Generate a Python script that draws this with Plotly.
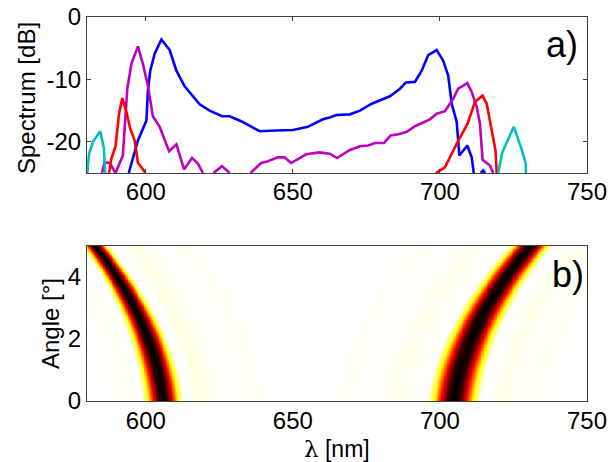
import numpy as np
import plotly.graph_objects as go

# --- Panel a): spectra (None = curve below the -25 dB floor)
blue_x = [594.2,597.3,600.2,600.7,601.5,603,605.3,608.1,610.4,613.2,618.3,621.7,625.9,628.5,632.4,635.3,638.7,644.3,650,655.1,660.2,662.5,664.8,669.4,672.8,676.8,679.6,683,686.4,688.4,691.5,693.8,696,698.9,701.1,702.8,704,705.7,706.6,709.3,710.8,711.5,None,713.9,714.7,715.4]
blue_y = [-25,-19.8,-16.6,-11.8,-8.6,-5.9,-3.6,-5.3,-8.6,-11.1,-14,-15,-15.9,-15.9,-16.7,-17.4,-18.3,-18.2,-18.1,-17.6,-16.4,-16.1,-15.7,-15.6,-15,-13.9,-13.4,-12.7,-11.5,-10.5,-10.4,-8.6,-6.1,-5.3,-7,-9.4,-13.9,-16.8,-22.2,-20.6,-22.5,-25,None,-25,-24.6,-25]
magenta_x = [585.1,586,587.7,589.7,592.2,592.8,593.7,595.1,597.3,599,600.7,602.4,604.7,607.9,610.4,613,615.7,617.7,619.4,None,623,625.9,628.5,None,635.6,639.2,641.5,644.9,647.2,649.4,654.5,659,662.5,665,669.4,672.8,675.6,677.9,681,683.2,685.9,688.7,691.5,696.6,698.9,701.7,704.5,706.2,709.3,710.8,712.5,713.6,714.5,717,718.1]
magenta_y = [-25,-23.3,-23.4,-25,-22.2,-17.6,-11.5,-7.5,-4.7,-7.5,-11,-15.9,-17.6,-21.5,-20.4,-24.4,-22.6,-23.5,-25,None,-25,-23.9,-25,None,-25,-23.4,-23.1,-22.5,-22.5,-23.4,-22,-21.7,-21.9,-22.6,-21.3,-20.7,-20.6,-20.2,-20.2,-19,-18.8,-18.4,-17.5,-16.4,-15.5,-15.1,-13.1,-11.5,-10.6,-12,-14.4,-17.1,-22.9,-23.8,-25]
red_x = [587.5,588.3,589.7,590.9,592,593.4,594.7,596.2,597.3,599.9,None,698.6,701.7,705.7,709.4,711.9,714.5,715.9,718.1,718.9,719.3]
red_y = [-25,-22.7,-20.7,-15.5,-13,-15.2,-17.9,-19.8,-23.3,-25,None,-25,-24.1,-20.3,-17.1,-13.6,-12.6,-13.9,-19,-21.4,-25]
cyan_x = [580.1,580.7,582,584.5,585.7,586.2,None,719.8,721.2,725.1,727.7,729.2,729.2]
cyan_y = [-25,-21.9,-20,-18.3,-20.9,-25,None,-25,-21.7,-17.6,-21.1,-23.5,-25]

# --- Panel b): ridge positions and band cross-sections
angle_samples = [0,0.5,1,1.5,2,2.5,3,3.5,4,4.5,5]
left_ridge = [605.2,605.0,604.3,603.2,601.0,598.7,595.9,592.8,589.4,586.6,583.5]
right_ridge = [705.1,705.4,706.2,707.9,710.2,712.8,715.9,719.3,722.6,726.3,730.0]
left_halfwidth = [6.6,6.6,6.5,6.4,6.2,5.9,5.6,5.3,5.0,4.7,4.4]
right_halfwidth = [8.7,8.7,8.6,8.5,8.3,8.1,7.9,7.7,7.5,7.3,7.1]
core_offset = [0,0.25,0.5,0.75,1.0,1.1]
core_level = [1.0,0.92,0.62,0.27,0.03,0.0]
left_lobe_offset = [-22,-17,-13,-9,-7,7,9,11,14,17,20,25,30,33,36]
left_lobe_level = [0,0.004,0.012,0.004,0,0,0.004,0.025,0.03,0.012,0.003,0.003,0.012,0.006,0]
right_lobe_offset = [-42,-37,-33,-25,-21,-16,-12,-10,12,14,17,20,24,28,32,36]
right_lobe_level = [0,0.012,0.003,0.004,0.02,0.014,0.004,0,0,0.014,0.025,0.01,0.008,0.012,0.004,0]

wavelengths = np.arange(580, 750.5, 0.5)
angles = np.arange(0, 5.02, 0.05)
left_fit = np.polyfit(angle_samples, left_ridge, 2)
right_fit = np.polyfit(angle_samples, right_ridge, 2)
cells = np.zeros((len(angles), len(wavelengths)))
for i, a in enumerate(angles):
    lc = np.polyval(left_fit, a); rc = np.polyval(right_fit, a)
    lw = np.interp(a, angle_samples, left_halfwidth); rw = np.interp(a, angle_samples, right_halfwidth)
    cells[i] = (np.interp(np.abs(wavelengths-lc)/lw, core_offset, core_level)
                + np.interp(np.abs(wavelengths-rc)/rw, core_offset, core_level)
                + np.interp(wavelengths-lc, left_lobe_offset, left_lobe_level)
                + np.interp(wavelengths-rc, right_lobe_offset, right_lobe_level))

x_ticks = [600,650,700,750]
x_labels = ["600","650","700","750"]
y_ticks_a = [0,-10,-20]
y_labels_a = ["0","-10","-20"]
y_ticks_b = [0,2,4]
y_labels_b = ["0","2","4"]

W, H = 614, 462
L, R = 87, 587
FONT = "Liberation Sans"
FRAME = "#404040"
fig = go.Figure()
for xs, ys, col, name in [(blue_x,blue_y,"#0000ff","blue"),(magenta_x,magenta_y,"#bf00bf","magenta"),
                    (red_x,red_y,"#ff0000","red"),(cyan_x,cyan_y,"#00bfbf","cyan")]:
    fig.add_trace(go.Scatter(x=xs,y=ys,mode="lines",line=dict(color=col,width=2.6),name=name,
                             showlegend=False,xaxis="x",yaxis="y",connectgaps=False))
fig.add_trace(go.Heatmap(x=wavelengths,y=angles,z=cells,zmin=0,zmax=1,zsmooth="best",showscale=False,
    xaxis="x2",yaxis="y2",
    colorscale=[[0,"#ffffff"],[0.25,"#ffff00"],[0.625,"#ff0000"],[1,"#000000"]]))
tf = dict(family=FONT,size=24,color="#000000")
def lab(text,x,y,size,angle=0,ha="center"):
    return dict(text=text,xref="paper",yref="paper",x=x/W,y=1-y/H,xanchor=ha,yanchor="middle",
                showarrow=False,textangle=angle,font=dict(family=FONT,size=size,color="#000000"))
fig.update_layout(
    width=W,height=H,margin=dict(l=0,r=0,t=0,b=0,autoexpand=False),paper_bgcolor="white",plot_bgcolor="white",
    font=dict(family=FONT,size=24,color="#000000"),showlegend=False,
    xaxis=dict(domain=[L/W,R/W],range=[580,750],anchor="y",tickvals=x_ticks,ticktext=x_labels,tickfont=tf,automargin=False,
               ticklabelstandoff=-3,ticks="inside",ticklen=4,tickcolor=FRAME,showline=True,linecolor=FRAME,linewidth=1,mirror="ticks",showgrid=False,zeroline=False),
    yaxis=dict(domain=[1-173/H,1-17/H],range=[-25,0],anchor="x",tickvals=y_ticks_a,ticktext=y_labels_a,tickfont=tf,automargin=False,
               ticklabeloverflow="allow",ticks="inside",ticklen=4,tickcolor=FRAME,showline=True,linecolor=FRAME,linewidth=1,mirror="ticks",showgrid=False,zeroline=False),
    xaxis2=dict(domain=[L/W,R/W],range=[580,750],anchor="y2",tickvals=x_ticks,ticktext=x_labels,tickfont=tf,automargin=False,
               ticklabelstandoff=-2,ticks="",showline=True,linecolor=FRAME,linewidth=1,mirror=True,showgrid=False,zeroline=False),
    yaxis2=dict(domain=[1-401/H,1-246/H],range=[0,5],anchor="x2",tickvals=y_ticks_b,ticktext=y_labels_b,tickfont=tf,automargin=False,
               ticks="",showline=True,linecolor=FRAME,linewidth=1,mirror=True,showgrid=False,zeroline=False),
    annotations=[
        lab("a)",580,44,36,ha="right"),
        lab("b)",586,274,36,ha="right"),
        lab("Spectrum [dB]",26,98,24,angle=-90),
        lab("Angle [°]",50,324,24,angle=-90),
        lab('<span style="font-family:DejaVu Serif">λ</span> [nm]',337,449,23),
    ],
)
# the page's default 8 px body margin would push the figure out of the window
fig.write_html("out.html", config={"displayModeBar":False},
               post_script="document.body.style.margin='0';document.documentElement.style.overflow='hidden';")
